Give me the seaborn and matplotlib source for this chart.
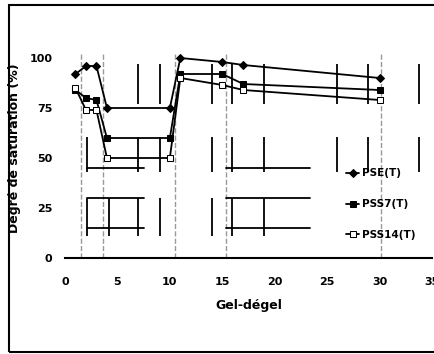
import numpy as np
import pandas as pd
import seaborn as sns
import matplotlib.pyplot as plt
from matplotlib.patches import Rectangle

# freeze-thaw cycles and saturation degree (%) per mix
cycles = [1, 2, 3, 4, 10, 11, 15, 17, 30]
pse = [92, 96, 96, 75, 75, 100, 98, 96.5, 90]
pss7 = [84, 80, 79, 60, 60, 92, 92, 87, 84]
pss14 = [85, 74, 74, 50, 50, 90, 86.5, 84, 79]
labels = ['PSE(T)', 'PSS7(T)', 'PSS14(T)']
markers = ['D', 's', 's']

# dashed separators between test stages
stage_x = [1.5, 3.6, 10.5, 15.4, 30.1]

# leftover segments from the original sheet
seg_upper_x = [7.0, 9.1, 14.0, 15.9, 19.0, 25.9, 28.9, 33.8]
seg_mid_x = [2.1, 7.0, 9.1, 14.0, 15.9, 19.0, 25.9, 28.9, 33.8]
seg_low_x = [2.1, 4.2, 7.0, 9.1, 14.0, 15.9, 19.0]
seg_h_y = [45, 30, 15]
seg_h_ranges = [(2.1, 7.5), (15.4, 23.4)]

sns.set_style('white')
plt.rcParams['font.family'] = ['DejaVu Sans']
plt.rcParams['text.color'] = 'black'
plt.rcParams['axes.labelcolor'] = 'black'
plt.rcParams['xtick.color'] = 'black'
plt.rcParams['ytick.color'] = 'black'

df = pd.DataFrame({'cycle': cycles * 3,
                   'sat': pse + pss7 + pss14,
                   'mix': np.repeat(labels, len(cycles))})

fig = plt.figure(figsize=(4.35, 3.54), dpi=100)
ax = fig.add_axes([65 / 435, 1 - 258 / 354, (432 - 65) / 435, 220 / 354])

for x in stage_x:
    ax.plot([x, x], [0, 102], ls='--', color='#999999', lw=1, zorder=1)

ax.vlines(seg_upper_x, 77, 97, color='black', lw=1.3)
ax.vlines(seg_mid_x, 43, 60.5, color='black', lw=1.3)
ax.vlines(seg_low_x, 11, 30, color='black', lw=1.3)
for y in seg_h_y:
    for x0, x1 in seg_h_ranges:
        ax.plot([x0, x1], [y, y], color='black', lw=1.3)

for lab, m in zip(labels, markers):
    sub = df[df['mix'] == lab]
    face = 'white' if lab == 'PSS14(T)' else 'black'
    sns.lineplot(data=sub, x='cycle', y='sat', ax=ax, color='black',
                 marker=m, markersize=4, markerfacecolor=face,
                 markeredgecolor='black', lw=1.3, label=lab, zorder=3)

ax.set_xlim(0, 35)
ax.set_ylim(0, 110)
ax.set_xticks([0, 5, 10, 15, 20, 25, 30, 35])
ax.set_yticks([0, 25, 50, 75, 100])
ax.tick_params(axis='x', length=0, labelsize=8, pad=14)
ax.tick_params(axis='y', length=0, labelsize=8, pad=9)
for t in ax.get_xticklabels() + ax.get_yticklabels():
    t.set_fontweight('bold')
for s in ['top', 'right', 'left']:
    ax.spines[s].set_visible(False)
ax.spines['bottom'].set_color('black')
ax.spines['bottom'].set_linewidth(1.5)

ax.set_xlabel('Gel-dégel', fontsize=9, fontweight='bold', labelpad=8)
ax.set_ylabel('Degré de saturation (%)', fontsize=9, fontweight='bold', labelpad=6)

ax.legend(loc='upper left', bbox_to_anchor=(0.74, 0.45), frameon=False,
          labelspacing=2.0, handlelength=1.3, handletextpad=0.2,
          prop={'weight': 'bold', 'size': 7.5})

fig.patches.append(Rectangle((9 / 435, 2 / 354), 430 / 435, 347 / 354,
                             transform=fig.transFigure, fill=False,
                             edgecolor='black', lw=1.5))

fig.savefig('out.png', dpi=100)
